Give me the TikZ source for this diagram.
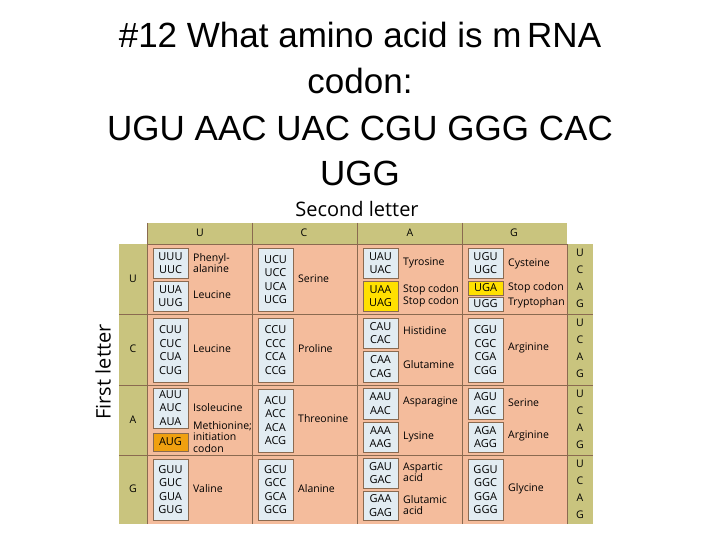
\documentclass[tikz,border=0pt]{standalone}
\usepackage{fontspec}
\setmainfont{Liberation Sans}
\newfontfamily\tabfont{Open Sans}
\definecolor{peach}{HTML}{F4BC9C}
\definecolor{olive}{HTML}{C9C47E}
\definecolor{cbx}{HTML}{E2ECF2}
\definecolor{stopy}{HTML}{FFE000}
\definecolor{starto}{HTML}{F0A010}
\definecolor{lin}{HTML}{8A6A50}
\begin{document}
\begin{tikzpicture}[x=1pt,y=-1pt,
  title/.style={font=\fontsize{35}{38}\selectfont},
  hdr/.style={font=\tabfont\fontsize{20}{22}\selectfont},
  sm/.style={font=\tabfont\fontsize{10.5}{12}\selectfont},
  cod/.style={font=\tabfont\fontsize{11}{13.5}\selectfont, align=center},
  ami/.style={font=\tabfont\fontsize{10.5}{11.5}\selectfont, align=left, anchor=west, inner sep=0pt},
  cb/.style={draw=lin, line width=0.5pt, fill=cbx}]
\useasboundingbox (0,0) rectangle (720,540);
\fill[white] (0,0) rectangle (720,540);
% title
\node[title] (t1) at (360,35) {\#12 What amino acid is m\,RNA};
\node[title] (t2) at (360,81) {codon:};
\node[title] (t3) at (360,128) {UGU AAC UAC CGU GGG CAC};
\node[title] (t4) at (360,173) {UGG};
% table backgrounds
\fill[olive] (147,223) rectangle (567,244);
\fill[olive] (119,244) rectangle (147,524);
\fill[olive] (567,244) rectangle (593,524);
\fill[peach] (147,244) rectangle (567,524);
\foreach \x in {252,357,462} \draw[lin,line width=0.6pt] (\x,223) -- (\x,524);
\draw[lin,line width=0.6pt] (147,223) -- (147,524);
\draw[lin,line width=0.6pt] (567,244) -- (567,524);
\foreach \y in {314,385,455} \draw[lin,line width=0.6pt] (119,\y) -- (593,\y);
\draw[lin,line width=0.6pt] (147,244) -- (567,244);
\node[hdr] (sl) at (357,209) {Second letter};
\node[hdr,rotate=90] (fl) at (103,372) {First letter};
\foreach \l/\x in {U/200,C/304,A/410,G/514} \node[sm] at (\x,233) {\l};
\foreach \l/\y in {U/279,C/349,A/420,G/489} \node[sm] at (133,\y) {\l};
\foreach \r in {244,314,385,455}{
  \foreach \l [count=\i] in {U,C,A,G} \node[sm] at (580,\r-8+17*\i) {\l};
}
\newcommand\cbx[6][cbx]{\node[cb,fill=#1,cod,inner sep=0pt,minimum width=#4-#2,minimum height=#5-#3] at ({(#2+#4)/2},{(#3+#5)/2}) {#6};}
% ---- row U
\cbx{153}{248}{188}{278}{UUU\\UUC}
\cbx{153}{281}{188}{311}{UUA\\UUG}
\node[ami] at (193,263) {Phenyl-\\alanine};
\node[ami] at (193,295) {Leucine};
\cbx{258}{248}{293}{311}{UCU\\UCC\\UCA\\UCG}
\node[ami] at (298,279) {Serine};
\cbx{363}{248}{398}{278}{UAU\\UAC}
\cbx[stopy]{363}{281}{398}{311}{UAA\\UAG}
\node[ami] at (403,263) {Tyrosine};
\node[ami] at (403,296) {Stop codon\\Stop codon};
\cbx{468}{248}{503}{278}{UGU\\UGC}
\cbx[stopy]{468}{281}{503}{295}{UGA}
\cbx{468}{297}{503}{311}{UGG}
\node[ami] at (508,264) {Cysteine};
\node[ami] at (508,288) {Stop codon};
\node[ami] at (508,303) {Tryptophan};
% ---- row C
\cbx{153}{318}{188}{382}{CUU\\CUC\\CUA\\CUG}
\node[ami] at (193,349) {Leucine};
\cbx{258}{318}{293}{382}{CCU\\CCC\\CCA\\CCG}
\node[ami] at (298,349) {Proline};
\cbx{363}{318}{398}{348}{CAU\\CAC}
\cbx{363}{351}{398}{382}{CAA\\CAG}
\node[ami] at (403,331) {Histidine};
\node[ami] at (403,365) {Glutamine};
\cbx{468}{318}{503}{382}{CGU\\CGC\\CGA\\CGG}
\node[ami] at (508,348) {Arginine};
% ---- row A
\cbx{153}{388}{188}{428}{AUU\\AUC\\AUA}
\cbx[starto]{153}{433}{188}{451}{AUG}
\node[ami] at (193,408) {Isoleucine};
\node[ami] at (193,437) {Methionine;\\initiation\\codon};
\cbx{258}{389}{293}{452}{ACU\\ACC\\ACA\\ACG}
\node[ami] at (298,419) {Threonine};
\cbx{363}{388}{398}{419}{AAU\\AAC}
\cbx{363}{422}{398}{452}{AAA\\AAG}
\node[ami] at (403,402) {Asparagine};
\node[ami] at (403,437) {Lysine};
\cbx{468}{388}{503}{419}{AGU\\AGC}
\cbx{468}{422}{503}{452}{AGA\\AGG}
\node[ami] at (508,403) {Serine};
\node[ami] at (508,436) {Arginine};
% ---- row G
\cbx{153}{459}{188}{520}{GUU\\GUC\\GUA\\GUG}
\node[ami] at (193,489) {Valine};
\cbx{258}{459}{293}{520}{GCU\\GCC\\GCA\\GCG}
\node[ami] at (298,489) {Alanine};
\cbx{363}{458}{398}{488}{GAU\\GAC}
\cbx{363}{491}{398}{520}{GAA\\GAG}
\node[ami] at (403,472) {Aspartic\\acid};
\node[ami] at (403,505) {Glutamic\\acid};
\cbx{468}{459}{503}{520}{GGU\\GGC\\GGA\\GGG}
\node[ami] at (508,489) {Glycine};
\end{tikzpicture}
\end{document}
